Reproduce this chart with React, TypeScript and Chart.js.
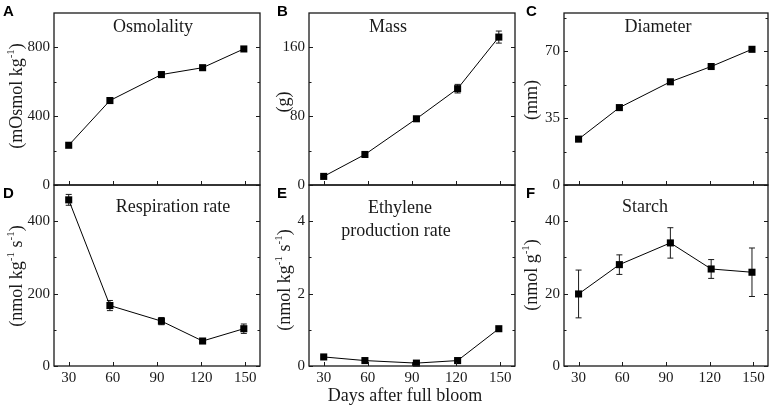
import React, { useEffect, useRef } from "react";
import { Chart, registerables } from "chart.js";
Chart.register(...registerables);

// ---- data ----
const days = [30, 58, 93, 121, 149];
const xTickValues = [30, 60, 90, 120, 150];

const osmolality = [231, 491, 642, 682, 791];
const osmolalityErr = [0, 0, 0, 0, 0];
const mass = [10, 35.5, 77, 112, 172];
const massErr = [1, 1.5, 2, 5, 7];
const diameter = [24, 40.5, 54, 62, 71];
const diameterErr = [0, 0, 0, 0, 0];
const respiration = [459, 167, 124, 69, 103];
const respirationErr = [15, 14, 10, 4, 13];
const ethylene = [0.25, 0.15, 0.08, 0.15, 1.03];
const ethyleneErr = [0.03, 0.03, 0.02, 0.03, 0.04];
const starch = [19.9, 28, 34, 26.8, 25.9];
const starchErr = [6.6, 2.7, 4.2, 2.6, 6.7];

const yTicksA = [0, 400, 800];
const yMinorA = [200, 600];
const yTicksB = [0, 80, 160];
const yMinorB = [40, 120];
const yTicksC = [0, 35, 70];
const yMinorC = [17.5, 52.5, 87.5];
const yTicksD = [0, 200, 400];
const yMinorD = [100, 300];
const yTicksE = [0, 2, 4];
const yMinorE = [1, 3];
const yTicksF = [0, 20, 40];
const yMinorF = [10, 30];

const W = 773;
const H = 409;
const Y_AXIS_W = 40;
const X_AXIS_H = 30;
const SERIF = "'Liberation Serif', 'Times New Roman', serif";
const SANS = "'Liberation Sans', Arial, sans-serif";

type Part = { t: string; sup?: boolean };

type Panel = {
  letter: string;
  letterPos: [number, number];
  titles: { t: string; x: number; y: number }[];
  yTitle: Part[];
  yTitlePos: [number, number];
  rect: [number, number, number, number]; // left, top, right, bottom
  yMax: number;
  yTicks: number[];
  yMinor: number[];
  values: number[];
  errors: number[];
  showX: boolean;
  xTitle?: boolean;
};

const panels: Panel[] = [
  {
    letter: "A", letterPos: [3, 16],
    titles: [{ t: "Osmolality", x: 153, y: 32 }],
    yTitle: [{ t: "(mOsmol kg" }, { t: "-1", sup: true }, { t: ")" }],
    yTitlePos: [16, 96],
    rect: [54, 4, 260, 185], yMax: 1000, yTicks: yTicksA, yMinor: yMinorA,
    values: osmolality, errors: osmolalityErr, showX: false,
  },
  {
    letter: "B", letterPos: [277, 16],
    titles: [{ t: "Mass", x: 388, y: 32 }],
    yTitle: [{ t: "(g)" }],
    yTitlePos: [283, 102],
    rect: [309, 4, 515, 185], yMax: 200, yTicks: yTicksB, yMinor: yMinorB,
    values: mass, errors: massErr, showX: false,
  },
  {
    letter: "C", letterPos: [526, 16],
    titles: [{ t: "Diameter", x: 658, y: 32 }],
    yTitle: [{ t: "(mm)" }],
    yTitlePos: [531, 100],
    rect: [564, 4, 769, 185], yMax: 90, yTicks: yTicksC, yMinor: yMinorC,
    values: diameter, errors: diameterErr, showX: false,
  },
  {
    letter: "D", letterPos: [3, 198],
    titles: [{ t: "Respiration rate", x: 173, y: 212 }],
    yTitle: [{ t: "(nmol kg" }, { t: "-1", sup: true }, { t: " s" }, { t: "-1", sup: true }, { t: ")" }],
    yTitlePos: [16, 276],
    rect: [54, 185, 260, 366], yMax: 500, yTicks: yTicksD, yMinor: yMinorD,
    values: respiration, errors: respirationErr, showX: true,
  },
  {
    letter: "E", letterPos: [277, 198],
    titles: [
      { t: "Ethylene", x: 400, y: 213 },
      { t: "production rate", x: 396, y: 236 },
    ],
    yTitle: [{ t: "(nmol kg" }, { t: "-1", sup: true }, { t: " s" }, { t: "-1", sup: true }, { t: ")" }],
    yTitlePos: [284, 280],
    rect: [309, 185, 515, 366], yMax: 5, yTicks: yTicksE, yMinor: yMinorE,
    values: ethylene, errors: ethyleneErr, showX: true, xTitle: true,
  },
  {
    letter: "F", letterPos: [526, 198],
    titles: [{ t: "Starch", x: 645, y: 212 }],
    yTitle: [{ t: "(nmol g" }, { t: "-1", sup: true }, { t: ")" }],
    yTitlePos: [531, 275],
    rect: [564, 185, 769, 366], yMax: 50, yTicks: yTicksF, yMinor: yMinorF,
    values: starch, errors: starchErr, showX: true,
  },
];

const INK = "#1a1a1a";

function drawVertical(ctx: CanvasRenderingContext2D, parts: Part[], cx: number, cy: number) {
  const mainFont = `18px ${SERIF}`;
  const supFont = `11px ${SERIF}`;
  let total = 0;
  const widths = parts.map((p) => {
    ctx.font = p.sup ? supFont : mainFont;
    const w = ctx.measureText(p.t).width;
    total += w;
    return w;
  });
  ctx.save();
  ctx.translate(cx, cy);
  ctx.rotate(-Math.PI / 2);
  ctx.fillStyle = INK;
  ctx.textAlign = "left";
  ctx.textBaseline = "alphabetic";
  let x = -total / 2;
  parts.forEach((p, i) => {
    ctx.font = p.sup ? supFont : mainFont;
    ctx.fillText(p.t, x, p.sup ? -2 : 6);
    x += widths[i];
  });
  ctx.restore();
}

const decorPlugin = {
  id: "panelDecor",
  beforeDatasetsDraw(chart: any, _args: any, opts: any) {
    const p: Panel = opts.panel;
    const ctx = chart.ctx;
    const xs = chart.scales.x;
    const ys = chart.scales.y;
    ctx.save();
    ctx.strokeStyle = INK;
    ctx.lineWidth = 1;
    p.errors.forEach((e, i) => {
      if (!e) return;
      const px = xs.getPixelForValue(days[i]);
      const top = ys.getPixelForValue(p.values[i] + e);
      const bot = ys.getPixelForValue(p.values[i] - e);
      ctx.beginPath();
      ctx.moveTo(px, top);
      ctx.lineTo(px, bot);
      ctx.moveTo(px - 3, top);
      ctx.lineTo(px + 3, top);
      ctx.moveTo(px - 3, bot);
      ctx.lineTo(px + 3, bot);
      ctx.stroke();
    });
    ctx.restore();
  },
  afterDraw(chart: any, _args: any, opts: any) {
    const p: Panel = opts.panel;
    const ctx = chart.ctx;
    const xs = chart.scales.x;
    const ys = chart.scales.y;
    const { left, top, right, bottom } = chart.chartArea;
    ctx.save();
    ctx.strokeStyle = INK;
    ctx.lineWidth = 1.3;
    ctx.strokeRect(left, top, right - left, bottom - top);
    ctx.lineWidth = 1;
    ctx.beginPath();
    p.yTicks.forEach((v) => {
      const py = Math.round(ys.getPixelForValue(v)) + 0.5;
      ctx.moveTo(left, py);
      ctx.lineTo(left + 4, py);
      ctx.moveTo(right, py);
      ctx.lineTo(right - 4, py);
    });
    p.yMinor.forEach((v) => {
      const py = Math.round(ys.getPixelForValue(v)) + 0.5;
      ctx.moveTo(left, py);
      ctx.lineTo(left + 2.5, py);
      ctx.moveTo(right, py);
      ctx.lineTo(right - 2.5, py);
    });
    xTickValues.forEach((v) => {
      const px = Math.round(xs.getPixelForValue(v)) + 0.5;
      ctx.moveTo(px, bottom);
      ctx.lineTo(px, bottom - 4);
    });
    ctx.stroke();

    // panel letter
    ctx.fillStyle = "#000";
    ctx.font = `bold 15px ${SANS}`;
    ctx.textAlign = "left";
    ctx.textBaseline = "alphabetic";
    ctx.fillText(p.letter, p.letterPos[0], p.letterPos[1]);

    // titles
    ctx.fillStyle = INK;
    ctx.font = `18px ${SERIF}`;
    ctx.textAlign = "center";
    p.titles.forEach((t) => ctx.fillText(t.t, t.x, t.y));

    if (p.xTitle) {
      ctx.fillText("Days after full bloom", 405, 401);
    }
    ctx.restore();
    drawVertical(ctx, p.yTitle, p.yTitlePos[0], p.yTitlePos[1]);
  },
};

function PanelChart({ panel }: { panel: Panel }) {
  const ref = useRef<HTMLCanvasElement | null>(null);
  useEffect(() => {
    if (!ref.current) return;
    const [l, t, r, b] = panel.rect;
    const chart = new Chart(ref.current, {
      type: "line",
      data: {
        datasets: [
          {
            data: days.map((d, i) => ({ x: d, y: panel.values[i] })),
            borderColor: "#000",
            borderWidth: 1,
            pointStyle: "rect",
            pointRadius: 5,
            pointHoverRadius: 5,
            pointBackgroundColor: "#000",
            pointBorderColor: "#000",
            pointBorderWidth: 0,
            tension: 0,
            clip: 8,
          } as any,
        ],
      },
      options: {
        animation: false,
        responsive: false,
        events: [],
        layout: {
          padding: {
            left: l - Y_AXIS_W,
            top: t,
            right: W - r,
            bottom: H - b - X_AXIS_H,
          },
        },
        plugins: {
          legend: { display: false },
          tooltip: { enabled: false },
          panelDecor: { panel },
        } as any,
        scales: {
          x: {
            type: "linear",
            min: 20,
            max: 160,
            afterBuildTicks: (s: any) => {
              s.ticks = xTickValues.map((v) => ({ value: v }));
            },
            afterFit: (s: any) => {
              s.height = X_AXIS_H;
            },
            grid: { display: false, drawTicks: false },
            border: { display: false },
            ticks: {
              display: panel.showX,
              padding: 3,
              color: INK,
              autoSkip: false,
              maxRotation: 0,
              font: { family: SERIF, size: 15 },
            },
          },
          y: {
            type: "linear",
            min: 0,
            max: panel.yMax,
            afterBuildTicks: (s: any) => {
              s.ticks = panel.yTicks.map((v) => ({ value: v }));
            },
            afterFit: (s: any) => {
              s.width = Y_AXIS_W;
            },
            grid: { display: false, drawTicks: false },
            border: { display: false },
            ticks: {
              padding: 4,
              color: INK,
              autoSkip: false,
              font: { family: SERIF, size: 15 },
            },
          },
        },
      },
      plugins: [decorPlugin],
    });
    return () => chart.destroy();
  }, [panel]);
  return (
    <canvas
      ref={ref}
      width={W}
      height={H}
      style={{ position: "absolute", left: 0, top: 0, width: W, height: H }}
    />
  );
}

export default function App() {
  return (
    <div style={{ position: "absolute", left: 0, top: 0, width: W, height: H, background: "#fff" }}>
      {panels.map((p) => (
        <PanelChart key={p.letter} panel={p} />
      ))}
    </div>
  );
}
